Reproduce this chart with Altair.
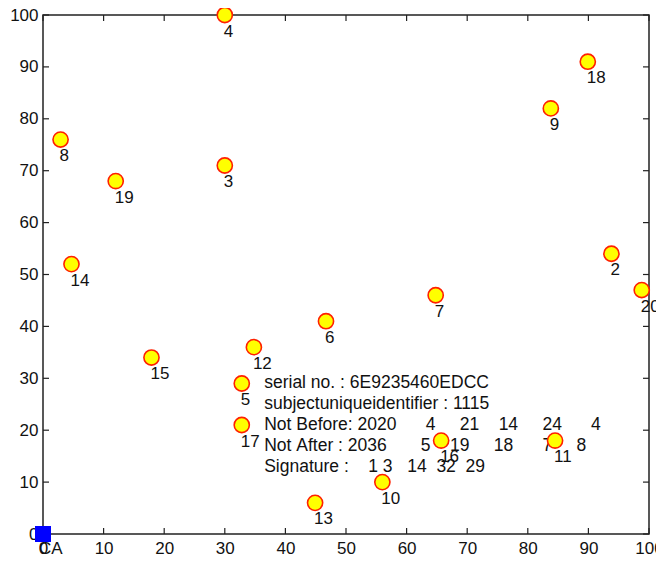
import altair as alt
import pandas as pd

# ---- data ----
node_ids = ["2", "3", "4", "5", "6", "7", "8", "9", "10", "11",
            "12", "13", "14", "15", "16", "17", "18", "19", "20"]
node_x = [93.8, 30.0, 30.0, 32.8, 46.7, 64.8, 2.9, 83.8, 56.0, 84.5,
          34.8, 44.9, 4.7, 17.9, 65.7, 32.8, 89.9, 12.0, 98.8]
node_y = [54.0, 71.0, 100.0, 29.0, 41.0, 46.0, 76.0, 82.0, 10.0, 18.0,
          36.0, 6.0, 52.0, 34.0, 18.0, 21.0, 91.0, 68.0, 47.0]

ca_x = [0]
ca_y = [0]
ca_label = ["CA"]

x_ticks = [0, 10, 20, 30, 40, 50, 60, 70, 80, 90, 100]
y_ticks = [0, 10, 20, 30, 40, 50, 60, 70, 80, 90, 100]

info_raw = [
    "serial no. : 6E9235460EDCC",
    "subjectuniqueidentifier : 1115",
    "Not Before: 2020      4     21    14     24      4",
    "Not After : 2036       5    19     18      7     8",
    "Signature :    1 3   14  32  29",
]
info_x = 36.5
info_y = 29.1

# ---- layout / style ----
W, H = 606, 519
FONT = "Liberation Sans"
NB = "\u00a0"
info_text = "\n".join(s.replace(" ", NB) for s in info_raw)

xs = alt.Scale(domain=[0, 100], nice=False, zero=False)
ys = alt.Scale(domain=[0, 100], nice=False, zero=False)

nodes = pd.DataFrame({"id": node_ids, "x": node_x, "y": node_y})
ca = pd.DataFrame({"id": ca_label, "x": ca_x, "y": ca_y})
xt = pd.DataFrame({"v": x_ticks})
yt = pd.DataFrame({"v": y_ticks})
info = pd.DataFrame({"x": [info_x], "y": [info_y], "t": [info_text]})

x_axis = alt.Axis(values=x_ticks, domain=False, ticks=False, grid=False,
                  labelPadding=6, labelFontSize=17, labelFont=FONT,
                  labelColor="#111", title=None, labelFlush=False)
y_axis = alt.Axis(values=y_ticks, domain=False, ticks=False, grid=False,
                  labelPadding=5, labelFontSize=17, labelFont=FONT,
                  labelColor="#111", title=None, labelFlush=False)


def X(f):
    return alt.X(f, scale=xs, axis=x_axis)


def Y(f):
    return alt.Y(f, scale=ys, axis=y_axis)


TL = 6
tick_style = dict(color="#222", strokeWidth=1.2)
t_bottom = alt.Chart(xt).mark_rule(**tick_style).encode(
    x=X("v:Q"), y=alt.value(H), y2=alt.value(H - TL))
t_top = alt.Chart(xt).mark_rule(**tick_style).encode(
    x=X("v:Q"), y=alt.value(0), y2=alt.value(TL))
t_left = alt.Chart(yt).mark_rule(**tick_style).encode(
    y=Y("v:Q"), x=alt.value(0), x2=alt.value(TL))
t_right = alt.Chart(yt).mark_rule(**tick_style).encode(
    y=Y("v:Q"), x=alt.value(W), x2=alt.value(W - TL))

info_mark = alt.Chart(info).mark_text(
    align="left", baseline="middle", lineBreak="\n", lineHeight=21,
    fontSize=17.5, font=FONT, color="#111"
).encode(x=X("x:Q"), y=Y("y:Q"), text="t:N")

pts = alt.Chart(nodes).mark_point(
    shape="circle", filled=True, fill="#FFFF00", stroke="#FF2000",
    strokeWidth=1.6, size=230, opacity=1, fillOpacity=1, strokeOpacity=1
).encode(x=X("x:Q"), y=Y("y:Q"))

labels = alt.Chart(nodes).mark_text(
    align="left", baseline="middle", dx=-1, dy=16.5,
    fontSize=17, font=FONT, color="#111"
).encode(x=X("x:Q"), y=Y("y:Q"), text="id:N")

ca_pt = alt.Chart(ca).mark_square(color="#0000FF", size=256, opacity=1).encode(
    x=X("x:Q"), y=Y("y:Q"))
ca_txt = alt.Chart(ca).mark_text(
    align="left", baseline="middle", dx=-4, dy=15,
    fontSize=17, font=FONT, color="#111"
).encode(x=X("x:Q"), y=Y("y:Q"), text="id:N")

chart = alt.layer(
    t_bottom, t_top, t_left, t_right,
    info_mark, pts, labels, ca_pt, ca_txt
).properties(
    width=W, height=H,
    autosize=alt.AutoSizeParams(type="none"),
    padding={"left": 35, "top": 7, "right": 7, "bottom": 21},
    background="white",
).configure_view(
    stroke="#222", strokeWidth=1.5
)

chart.save("out.html", embed_options={"renderer": "svg", "actions": False})
